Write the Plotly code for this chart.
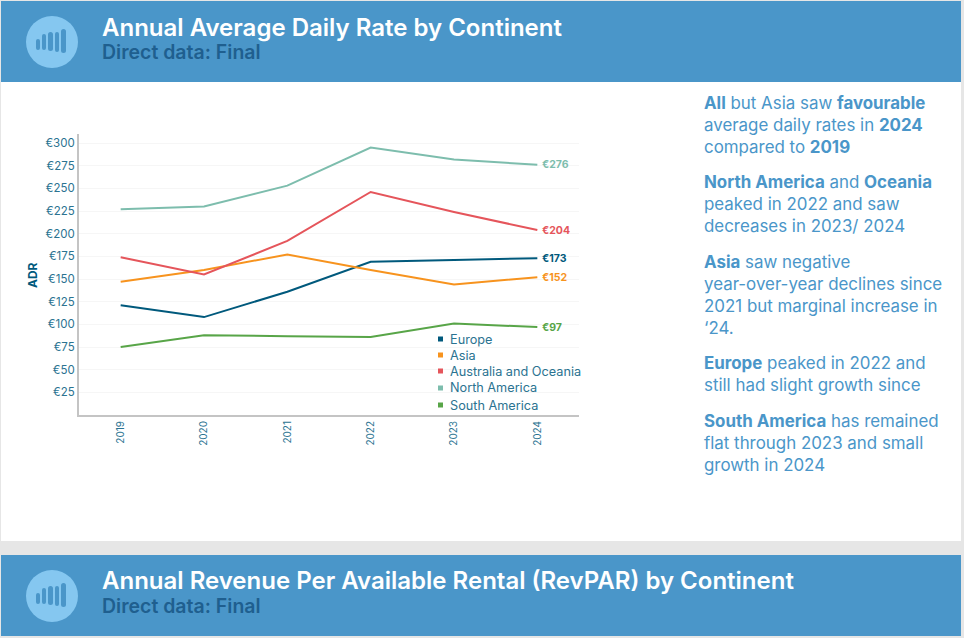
import plotly.graph_objects as go

W, H = 964, 638
years = ["2019", "2020", "2021", "2022", "2023", "2024"]
europe = [121, 108, 136, 169, 171, 173]
asia = [147, 160, 177, 160, 144, 152]
oceania = [174, 155, 192, 246, 224, 204]
north_america = [227, 230, 253, 295, 282, 276]
south_america = [75, 88, 87, 86, 101, 97]
y_ticks = [25, 50, 75, 100, 125, 150, 175, 200, 225, 250, 275, 300]
y_tick_labels = ["€25", "€50", "€75", "€100", "€125", "€150", "€175", "€200", "€225", "€250", "€275", "€300"]
end_labels = ["€173", "€152", "€204", "€276", "€97"]

names = ["Europe", "Asia", "Australia and Oceania", "North America", "South America"]
values = [europe, asia, oceania, north_america, south_america]
colors = ["#00597c", "#f7931e", "#e5555b", "#7dbdad", "#58a548"]

title_1 = "Annual Average Daily Rate by Continent"
title_2 = "Annual Revenue Per Available Rental (RevPAR) by Continent"
subtitle = "Direct data: Final"
commentary = [
    (103, "<b>All</b> but Asia saw <b>favourable</b>"),
    (125, "average daily rates in <b>2024</b>"),
    (147, "compared to <b>2019</b>"),
    (182, "<b>North America</b> and <b>Oceania</b>"),
    (204, "peaked in 2022 and saw"),
    (226, "decreases in 2023/ 2024"),
    (262, "<b>Asia</b> saw negative"),
    (284, "year-over-year declines since"),
    (306, "2021 but marginal increase in"),
    (328, "‘24."),
    (363, "<b>Europe</b> peaked in 2022 and"),
    (385, "still had slight growth since"),
    (421, "<b>South America</b> has remained"),
    (443, "flat through 2023 and small"),
    (465, "growth in 2024"),
]

FONT = "Inter"
TEAL = "#2b7391"
BLUE = "#4a96c9"


def px(x):
    return x / W


def py(y):
    return 1 - y / H


def rect(x0, y0, x1, y1, color, layer="below"):
    return dict(type="rect", xref="paper", yref="paper", x0=px(x0), x1=px(x1),
                y0=py(y0), y1=py(y1), fillcolor=color, line_width=0, layer=layer)


def pill(x0, y0, x1, y1, color):
    r = (x1 - x0) / 2
    path = (f"M {px(x0)} {py(y0 + r)} Q {px(x0)} {py(y0)} {px(x0 + r)} {py(y0)} "
            f"Q {px(x1)} {py(y0)} {px(x1)} {py(y0 + r)} L {px(x1)} {py(y1 - r)} "
            f"Q {px(x1)} {py(y1)} {px(x0 + r)} {py(y1)} Q {px(x0)} {py(y1)} {px(x0)} {py(y1 - r)} Z")
    return dict(type="path", xref="paper", yref="paper", path=path,
                fillcolor=color, line_width=0, layer="above")


def text(x, y, s, size, color, weight=400, anchor="left"):
    return dict(xref="paper", yref="paper", x=px(x - 2), y=py(y), text=s, showarrow=False,
                xanchor=anchor, yanchor="middle", align=anchor,
                font=dict(family=FONT, size=size, color=color, weight=weight))


shapes = [
    rect(0, 0, W, H, "#e6e6e6"),
    rect(1, 1, 961, 541, "#ffffff"),
    rect(1, 1, 961, 82, BLUE),
    rect(1, 555, 961, 636, BLUE),
]
for cy in (42, 596):
    shapes.append(dict(type="circle", xref="paper", yref="paper", x0=px(26), x1=px(78),
                       y0=py(cy + 26), y1=py(cy - 26), fillcolor="#85c7f0", line_width=0, layer="above"))
    for bx0, by0, bx1, by1 in [(36, -3, 40, 8), (42, -8, 46, 8), (48, -10, 53, 9), (55, -10, 59, 10), (61, -13, 66, 11)]:
        shapes.append(pill(bx0, cy + by0, bx1, cy + by1, BLUE))

annotations = [
    text(102, 27, title_1, 24, "#ffffff", 600),
    text(102, 52, subtitle, 19.5, "#1f5f8f", 600),
    text(102, 580, title_2, 24, "#ffffff", 600),
    text(102, 606, subtitle, 19.5, "#1f5f8f", 600),
    dict(xref="paper", yref="paper", x=px(32), y=py(275), text="<b>ADR</b>", showarrow=False,
         xanchor="center", yanchor="middle", textangle=-90,
         font=dict(family=FONT, size=12, color="#00597c")),
]
for y, line in commentary:
    annotations.append(text(704, y, line, 16.9, BLUE))

legend_y = [339, 355, 371, 388, 405]
for name, color, y in zip(names, colors, legend_y):
    shapes.append(rect(438, y - 2.5, 443, y + 2.5, color, "above"))
    annotations.append(text(450, y, name, 12.7, TEAL))

fig = go.Figure()
for name, vals, color, label in zip(names, values, colors, end_labels):
    fig.add_trace(go.Scatter(
        x=years, y=vals, name=name, mode="lines",
        line=dict(color=color, width=2), showlegend=False,
    ))
    annotations.append(dict(
        xref="x", yref="y", x=len(years) - 1, y=vals[-1], text=label, showarrow=False,
        xanchor="left", yanchor="middle", xshift=3,
        font=dict(family=FONT, size=10.5, color=color, weight=700),
    ))

fig.update_layout(
    width=W, height=H, autosize=False, showlegend=False,
    margin=dict(l=0, r=0, t=0, b=0),
    paper_bgcolor="#ffffff", plot_bgcolor="rgba(0,0,0,0)",
    font=dict(family=FONT, color=TEAL),
    shapes=shapes, annotations=annotations,
    xaxis=dict(type="category", categoryorder="array", categoryarray=years,
               domain=[px(79), px(579)], range=[-0.5, 5.5], tickangle=-90,
               tickfont=dict(family=FONT, size=10, color=TEAL), showgrid=False,
               showline=True, linecolor="#c4c4c4", linewidth=2, ticks="", anchor="y"),
    yaxis=dict(domain=[py(415), py(134)], range=[0, 310], tickmode="array",
               tickvals=y_ticks, ticktext=y_tick_labels,
               tickfont=dict(family=FONT, size=11.5, color=TEAL),
               showgrid=True, gridcolor="#f6f6f6", gridwidth=1, zeroline=False,
               showline=True, linecolor="#c4c4c4", linewidth=2, ticks="", anchor="x"),
)

fig.write_html("out.html", config={"displayModeBar": False},
               post_script="document.body.style.margin='0';document.body.style.overflow='hidden';")
